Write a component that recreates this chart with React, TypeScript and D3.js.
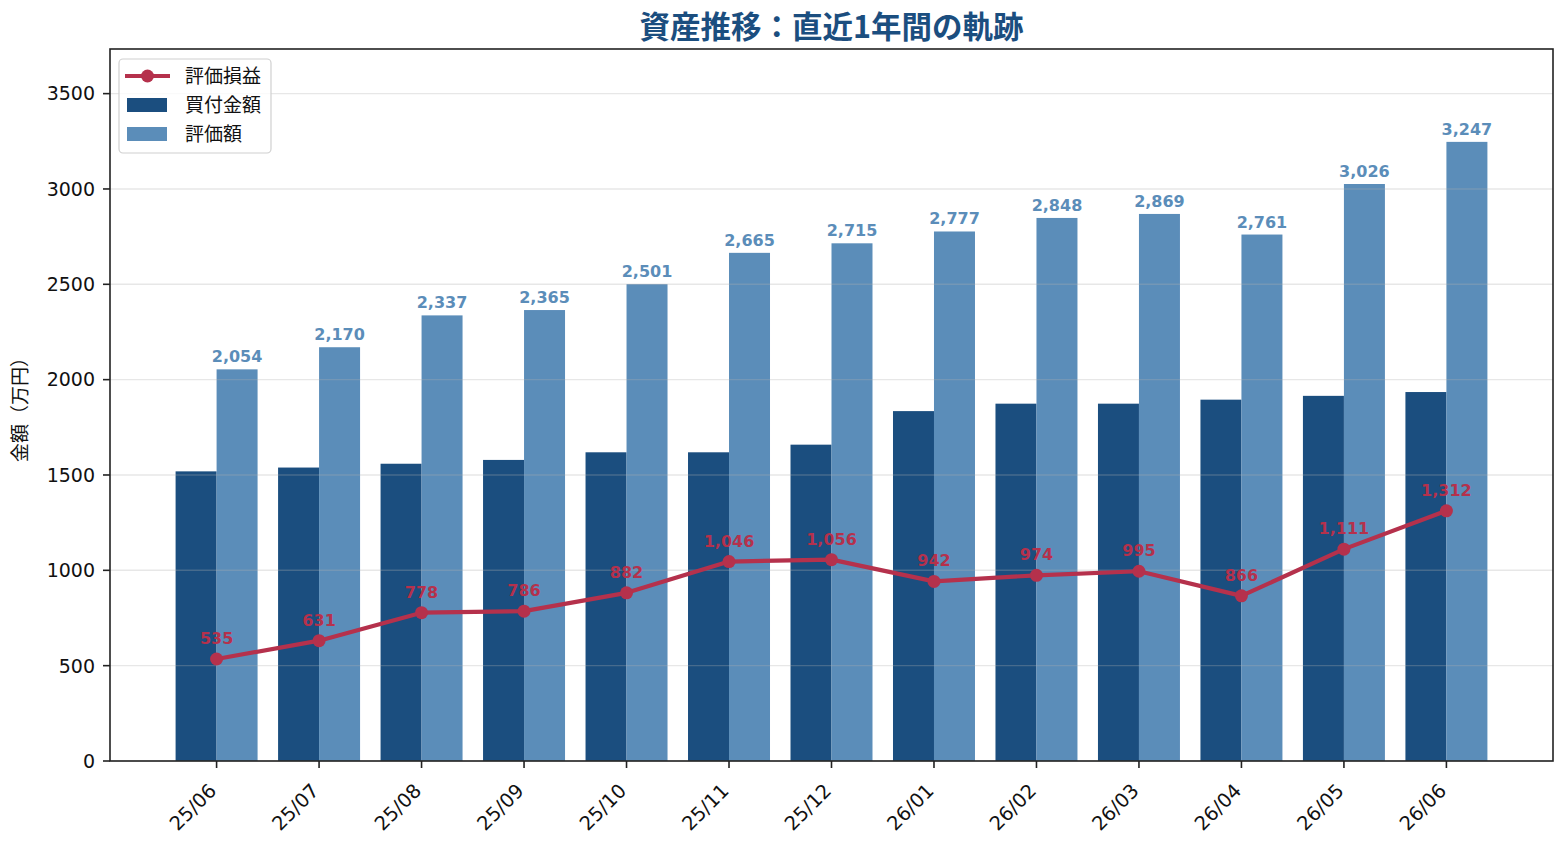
import React from "react";
import * as d3 from "d3";

// Monthly snapshot of the portfolio (万円)
const months = ["25/06", "25/07", "25/08", "25/09", "25/10", "25/11", "25/12", "26/01", "26/02", "26/03", "26/04", "26/05", "26/06"];
const purchaseAmounts = [1519, 1539, 1559, 1579, 1619, 1619, 1659, 1835, 1874, 1874, 1895, 1915, 1935];
const marketValues = [2054, 2170, 2337, 2365, 2501, 2665, 2715, 2777, 2848, 2869, 2761, 3026, 3247];
const unrealizedGains = [535, 631, 778, 786, 882, 1046, 1056, 942, 974, 995, 866, 1111, 1312];
const yTicks = [0, 500, 1000, 1500, 2000, 2500, 3000, 3500];

const W = 1568;
const H = 848;
const M = { left: 110, right: 1553, top: 49, bottom: 761 };

const DARK = "#1b4e7f";
const LIGHT = "#5b8db9";
const RED = "#b5314c";
const INK = "#222";
const NUM_FONT = "'DejaVu Sans', 'Noto Sans CJK JP', sans-serif";
const JP_FONT = "'Noto Sans CJK JP', sans-serif";

const fmt = d3.format(",");

export default function App() {
  const n = months.length;
  const barW = 0.4;
  const pad = (n - 1 + 2 * barW) * 0.05;
  const x = d3.scaleLinear().domain([-barW - pad, n - 1 + barW + pad]).range([M.left, M.right]);
  const yMax = d3.max(marketValues)! * 1.15;
  const y = d3.scaleLinear().domain([0, yMax]).range([M.bottom, M.top]);
  const bw = x(barW) - x(0);

  const line = d3
    .line<number>()
    .x((_, i) => x(i))
    .y((d) => y(d));

  return (
    <svg width={W} height={H} style={{ position: "absolute", left: 0, top: 0, background: "#fff" }}>
      {/* bars */}
      {purchaseAmounts.map((v, i) => (
        <rect key={"p" + i} x={x(i) - bw} y={y(v)} width={bw} height={y(0) - y(v)} fill={DARK} />
      ))}
      {marketValues.map((v, i) => (
        <rect key={"m" + i} x={x(i)} y={y(v)} width={bw} height={y(0) - y(v)} fill={LIGHT} />
      ))}

      {/* horizontal grid */}
      {yTicks.map((t) => (
        <line key={"g" + t} x1={M.left} x2={M.right} y1={y(t)} y2={y(t)} stroke="#b0b0b0" strokeOpacity={0.3} strokeWidth={1.4} />
      ))}

      {/* market value labels */}
      {marketValues.map((v, i) => (
        <text key={"ml" + i} x={x(i) + bw / 2} y={y(v) - 7} textAnchor="middle" fontFamily={NUM_FONT} fontWeight="bold" fontSize={16} fill={LIGHT}>
          {fmt(v)}
        </text>
      ))}

      {/* unrealized gain line */}
      <path d={line(unrealizedGains)!} fill="none" stroke={RED} strokeWidth={4.2} strokeLinejoin="round" />
      {unrealizedGains.map((v, i) => (
        <circle key={"c" + i} cx={x(i)} cy={y(v)} r={6.5} fill={RED} />
      ))}
      {unrealizedGains.map((v, i) => (
        <text key={"gl" + i} x={x(i)} y={y(v) - 15} textAnchor="middle" fontFamily={NUM_FONT} fontWeight="bold" fontSize={16} fill={RED}>
          {fmt(v)}
        </text>
      ))}

      {/* frame */}
      <rect x={M.left} y={M.top} width={M.right - M.left} height={M.bottom - M.top} fill="none" stroke={INK} strokeWidth={1.6} />

      {/* y axis */}
      {yTicks.map((t) => (
        <g key={"yt" + t}>
          <line x1={M.left - 7} x2={M.left} y1={y(t)} y2={y(t)} stroke={INK} strokeWidth={1.6} />
          <text x={M.left - 15} y={y(t)} dy="0.36em" textAnchor="end" fontFamily={NUM_FONT} fontSize={19} fill="#111">
            {t}
          </text>
        </g>
      ))}
      <text transform={`translate(27, ${(M.top + M.bottom) / 2}) rotate(-90)`} textAnchor="middle" fontFamily={JP_FONT} fontSize={19} fill="#111">
        金額（万円）
      </text>

      {/* x axis */}
      {months.map((m, i) => (
        <g key={"xt" + i}>
          <line x1={x(i)} x2={x(i)} y1={M.bottom} y2={M.bottom + 7} stroke={INK} strokeWidth={1.6} />
          <text transform={`translate(${x(i) + 1}, ${M.bottom + 31}) rotate(-45)`} textAnchor="end" fontFamily={NUM_FONT} fontSize={19.5} fill="#111">
            {m}
          </text>
        </g>
      ))}

      {/* title */}
      <text x={(M.left + M.right) / 2} y={38} textAnchor="middle" fontFamily={JP_FONT} fontWeight="bold" fontSize={30.5} fill={DARK}>
        資産推移：直近1年間の軌跡
      </text>

      {/* legend */}
      <g>
        <rect x={119} y={59} width={152} height={94} rx={4} fill="#fff" fillOpacity={0.8} stroke="#d0d0d0" strokeWidth={1.2} />
        <line x1={125} x2={170} y1={76} y2={76} stroke={RED} strokeWidth={4.2} />
        <circle cx={147.5} cy={76} r={6.5} fill={RED} />
        <text x={185} y={76} dy="0.36em" fontFamily={JP_FONT} fontSize={19} fill="#111">評価損益</text>
        <rect x={127} y={98} width={40} height={14} fill={DARK} />
        <text x={185} y={105} dy="0.36em" fontFamily={JP_FONT} fontSize={19} fill="#111">買付金額</text>
        <rect x={127} y={127} width={40} height={14} fill={LIGHT} />
        <text x={185} y={134} dy="0.36em" fontFamily={JP_FONT} fontSize={19} fill="#111">評価額</text>
      </g>
    </svg>
  );
}
